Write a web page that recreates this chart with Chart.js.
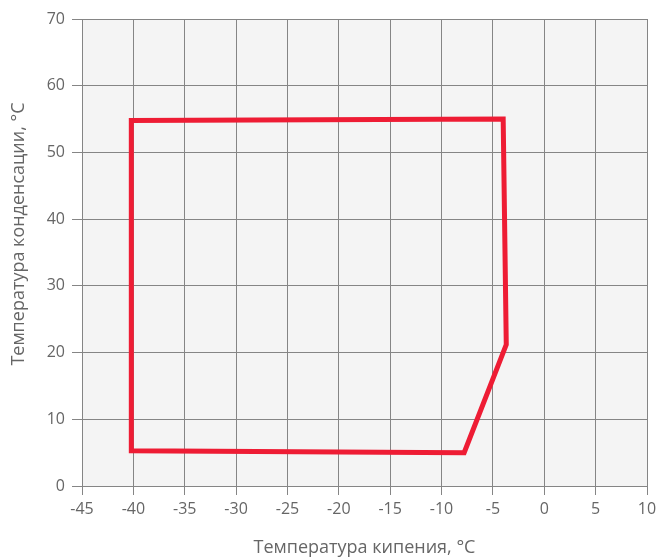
<!DOCTYPE html>
<html>
<head>
<meta charset="utf-8">
<script src="https://cdn.jsdelivr.net/npm/chart.js@4"></script>
<style>
  body { margin: 0; background: #fff; }
  #wrap { width: 657px; height: 557px; }
</style>
</head>
<body>
<div id="wrap"><canvas id="grab"></canvas></div>
<script>
// envelope corners, closed back to start
const tKip = [-40.2, -4, -3.7, -7.8, -40.2, -40.2];
const tKond = [54.8, 55, 21.2, 5, 5.3, 54.8];
const xTitle = "Температура кипения, °С";
const yTitle = "Температура конденсации, °С";

const pts = tKip.map((x, i) => ({ x: x, y: tKond[i] }));

const plotBg = {
  id: "plotBg",
  beforeDraw: (chart) => {
    const a = chart.chartArea;
    const c = chart.ctx;
    c.save();
    c.fillStyle = "#f4f4f4";
    c.fillRect(a.left, a.top, a.right - a.left, a.bottom - a.top);
    c.restore();
  }
};

// y title sits a bit above the plot centre in the original
const yLabel = {
  id: "yLabel",
  afterDraw: (chart) => {
    const c = chart.ctx;
    c.save();
    c.translate(19, 234);
    c.rotate(-Math.PI / 2);
    c.font = "18px 'Open Sans'";
    c.fillStyle = "#666";
    c.textAlign = "center";
    c.textBaseline = "middle";
    c.fillText(yTitle, 0, 0);
    c.restore();
  }
};

const grph = document.querySelector("#grab");
const man = new Chart(grph, {
  type: "scatter",
  data: {
    datasets: [{
      data: pts,
      showLine: true,
      borderColor: "#ee1c34",
      borderWidth: 5,
      pointRadius: 0,
      fill: false,
      borderJoinStyle: "miter",
      borderCapStyle: "square"
    }]
  },
  options: {
    responsive: true,
    maintainAspectRatio: false,
    animation: false,
    layout: { padding: { top: 19, right: 10, left: 0 } },
    plugins: { legend: { display: false }, tooltip: { enabled: false } },
    scales: {
      x: {
        type: "linear",
        min: -45, max: 10,
        afterFit: (s) => { s.height = 71; s.paddingRight = 0; s.paddingLeft = 0; },
        ticks: { stepSize: 5, color: "#666", font: { family: "Open Sans", size: 16 }, padding: 5 },
        grid: { color: "#858585", tickLength: 9, tickColor: "#858585" },
        border: { color: "#858585" },
        title: { display: true, text: xTitle, color: "#666", font: { family: "Open Sans", size: 18 }, padding: { top: 0, bottom: -2 } }
      },
      y: {
        min: 0, max: 70,
        afterFit: (s) => { s.width = 82; s.paddingTop = 0; s.paddingBottom = 0; },
        ticks: { stepSize: 10, color: "#666", font: { family: "Open Sans", size: 16 }, padding: 7 },
        grid: { color: "#858585", tickLength: 10, tickColor: "#858585" },
        border: { color: "#858585" },
        title: { display: false }
      }
    }
  },
  plugins: [plotBg, yLabel]
});
</script>
</body>
</html>
